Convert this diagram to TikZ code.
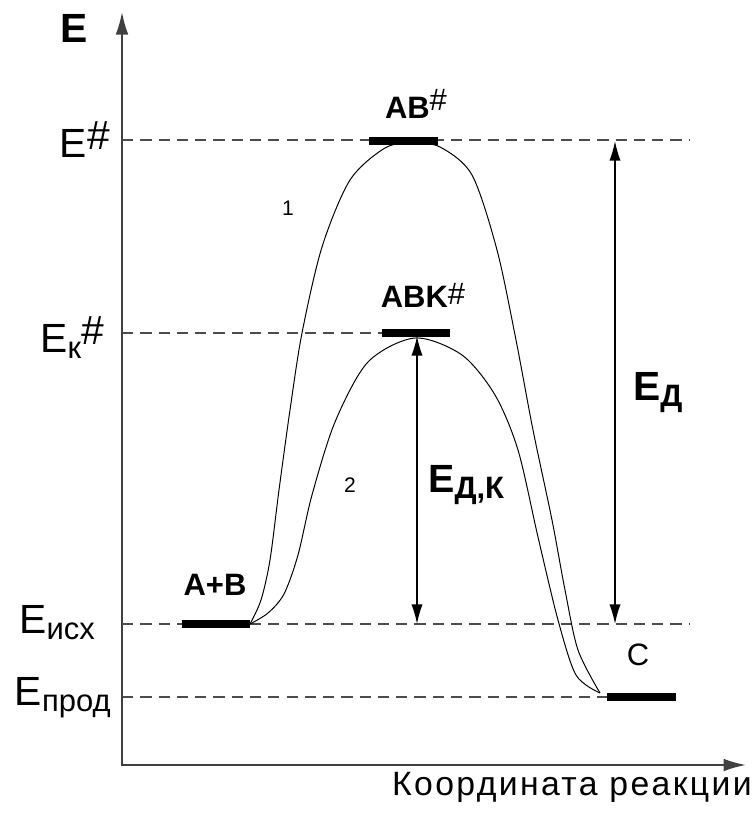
\documentclass[tikz,border=0pt]{standalone}
\usepackage{fontspec}
\setmainfont{Liberation Sans}
\usetikzlibrary{arrows.meta, positioning}

\newcommand{\hsup}{\raisebox{5pt}{\#}}
\newcommand{\lsub}[1]{\raisebox{-4.5pt}{\fontsize{22}{22}\selectfont #1}}

\begin{document}
\begin{tikzpicture}[x=0.025cm, y=-0.025cm,
        % Styles for lines
        axis/.style={{Latex[length=16pt,width=9pt]}-{Latex[length=16pt,width=9pt]}, line width=1.3pt, black!75},
        level/.style={dash pattern=on 8pt off 5pt, line width=1pt, black!70},
        state/.style={line width=5pt},
        curve/.style={line width=0.7pt},
        gap/.style={{Latex[length=14pt,width=8pt]}-{Latex[length=14pt,width=8pt]}, line width=1pt},
        % Styles for texts
        lvl_label/.style={font=\fontsize{29}{30}\selectfont, anchor=base east, inner sep=0pt},
        st_label/.style={font=\fontsize{22}{24}\selectfont\bfseries, anchor=base, inner sep=0pt},
        big_label/.style={font=\fontsize{29}{30}\selectfont\bfseries, anchor=base west, inner sep=0pt},
        num_label/.style={font=\fontsize{15}{16}\selectfont, inner sep=0pt}
    ]
    \useasboundingbox (0,0) rectangle (754,817);

    % =========================================================================
    % AXES
    % =========================================================================
    \coordinate (origin) at (122,765);
    \coordinate (y_top) at (122,12);
    \coordinate (x_end) at (746,765);
    \draw[axis] (y_top) -- (origin) -- (x_end);

    \node (e_axis) [big_label, anchor=base] at (74,42) {E};
    \node (x_axis) [font=\fontsize{24}{26}\selectfont\addfontfeature{LetterSpace=7}, anchor=base east, inner sep=0pt] at (752,795) {Координата реакции};

    % =========================================================================
    % ENERGY LEVELS
    % =========================================================================
    \coordinate (lvl_ts) at (122,140);
    \coordinate (lvl_ts_end) at (690,140);
    \coordinate (lvl_cat) at (122,333);
    \coordinate (lvl_cat_end) at (382,333);
    \coordinate (lvl_in) at (122,624);
    \coordinate (lvl_in_end) at (690,624);
    \coordinate (lvl_out) at (122,697);
    \coordinate (lvl_out_end) at (607,697);

    \draw[level] (lvl_ts) -- (lvl_ts_end);
    \draw[level] (lvl_cat) -- (lvl_cat_end);
    \draw[level] (lvl_in) -- (lvl_in_end);
    \draw[level] (lvl_out) -- (lvl_out_end);

    \node (lbl_ts) [lvl_label] at (110,157) {E\hsup};
    \node (lbl_cat) [lvl_label] at (104,352) {E\lsub{к}\hsup};
    \node (lbl_in) [lvl_label] at (95,633) {E\lsub{исх}};
    \node (lbl_out) [lvl_label] at (111,705) {E\lsub{прод}};

    % =========================================================================
    % STATES
    % =========================================================================
    \coordinate (ab_l) at (182,624);
    \coordinate (ab_r) at (250,624);
    \coordinate (ts_l) at (369,141);
    \coordinate (ts_r) at (438,141);
    \coordinate (cat_l) at (382,333);
    \coordinate (cat_r) at (450,333);
    \coordinate (c_l) at (607,697);
    \coordinate (c_r) at (676,697);

    \draw[state] (ab_l) -- (ab_r);
    \draw[state] (ts_l) -- (ts_r);
    \draw[state] (cat_l) -- (cat_r);
    \draw[state] (c_l) -- (c_r);

    \node (st_ab) [st_label] at (215,595) {A+B};
    \node (st_ts) [st_label] at (416,118) {AB{\mdseries\hsup}};
    \node (st_cat) [st_label] at (423,307) {ABK{\mdseries\raisebox{2pt}{\#}}};
    \node (st_c) [st_label, font=\fontsize{22}{24}\selectfont] at (638,665) {C};

    % =========================================================================
    % REACTION PATHS
    % =========================================================================
    \draw[curve] plot[smooth, tension=0.5] coordinates {
        (250,624) (261,600) (270,560) (279,490) (290,410) (302,333) (322,247)
        (350,180) (385,148) (412,143) (440,147) (472,175) (497,250) (516,340)
        (533,430) (552,520) (565,590) (578,650) (600,693)};
    \draw[curve] plot[smooth, tension=0.5] coordinates {
        (250,624) (268,613) (284,594) (298,555) (312,495) (335,422) (368,362)
        (415,338) (462,355) (495,395) (518,450) (538,537) (558,620) (576,675) (600,693)};

    \node (path_1) [num_label] at (288,208) {1};
    \node (path_2) [num_label] at (350,485) {2};

    % =========================================================================
    % ACTIVATION ENERGIES
    % =========================================================================
    \coordinate (ea_top) at (615,141);
    \coordinate (ea_bot) at (615,624);
    \coordinate (eak_top) at (417,336);
    \coordinate (eak_bot) at (417,624);

    \draw[gap] (ea_top) -- (ea_bot);
    \draw[gap] (eak_top) -- (eak_bot);

    \node (lbl_ea) [big_label] at (633,400) {E\lsub{\bfseries Д}};
    \node (lbl_eak) [big_label, font=\fontsize{28}{30}\selectfont\bfseries] at (428,492) {E\lsub{\bfseries Д,К}};

\end{tikzpicture}
\end{document}
